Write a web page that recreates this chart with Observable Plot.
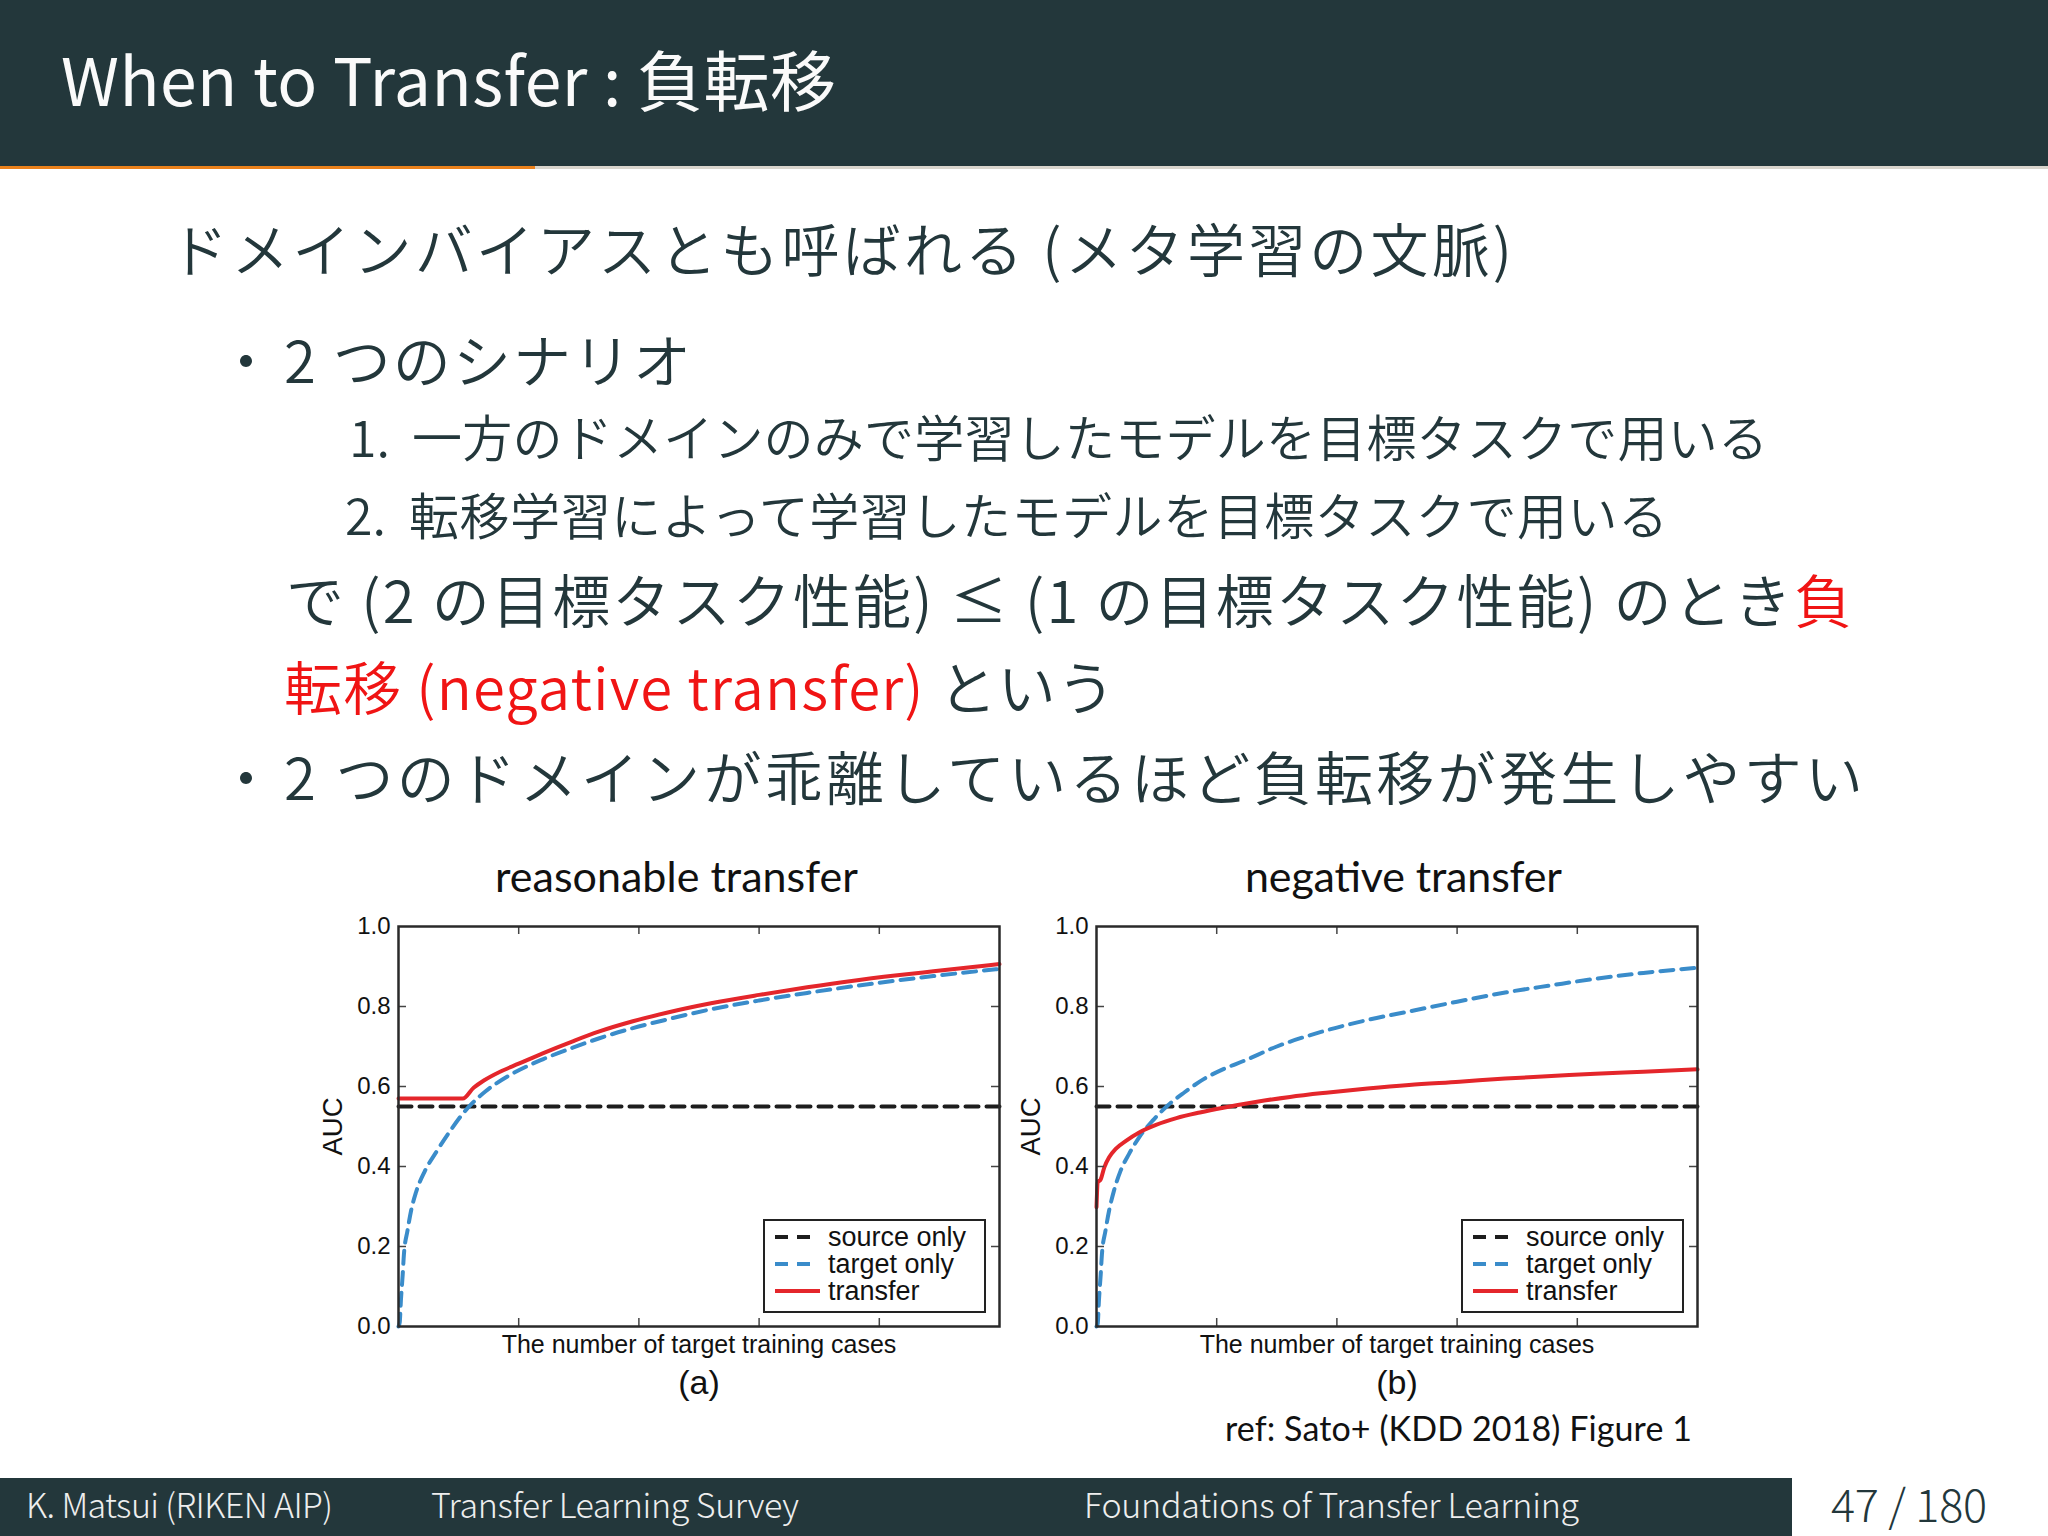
<!DOCTYPE html>
<html>
<head>
<meta charset="utf-8">
<script src="https://cdn.jsdelivr.net/npm/d3@7"></script>
<script src="https://cdn.jsdelivr.net/npm/@observablehq/plot@0.6"></script>
<style>
  html, body { margin: 0; padding: 0; background: #fff; }
  #page { position: relative; width: 2048px; height: 1536px; overflow: hidden; background: #fff; }
  .chart { position: absolute; width: 720px; }
  .chart svg { max-width: none !important; }
</style>
</head>
<body>
<div id="page"></div>
<script>
// ---------------- data ----------------
const slideTitle = "When to Transfer : 負転移";
const introLine = "ドメインバイアスとも呼ばれる (メタ学習の文脈)";
const bullet1 = "2 つのシナリオ";
const scenarioNums = ["1.", "2."];
const scenarios = [
  "一方のドメインのみで学習したモデルを目標タスクで用いる",
  "転移学習によって学習したモデルを目標タスクで用いる"
];
const condLineA = "で (2 の目標タスク性能) ≤ (1 の目標タスク性能) のとき";
const condRedA = "負";
const condRedB = "転移 (negative transfer)";
const condLineB = " という";
const bullet2 = "2 つのドメインが乖離しているほど負転移が発生しやすい";
const chartTitles = ["reasonable transfer", "negative transfer"];
const captions = ["(a)", "(b)"];
const refText = "ref: Sato+ (KDD 2018) Figure 1";
const footerTexts = ["K. Matsui (RIKEN AIP)", "Transfer Learning Survey", "Foundations of Transfer Learning"];
const pageNumber = "47 / 180";

const xLabel = "The number of target training cases";
const yLabel = "AUC";
const seriesNames = ["source only", "target only", "transfer"];
const xTicks = [0.2, 0.4, 0.6, 0.8];
const yTicks = [0, 0.2, 0.4, 0.6, 0.8, 1.0];
const xDomain = [0, 1];
const sourceOnlyAUC = 0.55;

// (a) reasonable transfer
const aTargetX = [0, 0.002, 0.004, 0.007, 0.009, 0.015, 0.021, 0.029, 0.044, 0.064, 0.086, 0.107, 0.122, 0.145, 0.187, 0.24, 0.29, 0.333, 0.39, 0.448, 0.52, 0.6, 0.68, 0.754, 0.83, 0.89, 1.0];
const aTargetY = [0, 0.01, 0.065, 0.13, 0.18, 0.24, 0.29, 0.335, 0.389, 0.439, 0.489, 0.532, 0.557, 0.588, 0.63, 0.668, 0.697, 0.72, 0.746, 0.768, 0.793, 0.815, 0.834, 0.85, 0.865, 0.876, 0.894];
const aTransferX = [0, 0.107, 0.125, 0.142, 0.169, 0.2, 0.24, 0.29, 0.333, 0.39, 0.448, 0.52, 0.6, 0.68, 0.754, 0.83, 0.89, 1.0];
const aTransferY = [0.57, 0.57, 0.597, 0.615, 0.637, 0.657, 0.683, 0.713, 0.737, 0.763, 0.785, 0.808, 0.829, 0.848, 0.864, 0.878, 0.888, 0.906];

// (b) negative transfer
const bTargetX = [0, 0.002, 0.004, 0.007, 0.009, 0.015, 0.021, 0.029, 0.04, 0.054, 0.071, 0.093, 0.118, 0.146, 0.179, 0.212, 0.245, 0.3, 0.375, 0.45, 0.528, 0.6, 0.68, 0.757, 0.833, 0.91, 1.0];
const bTargetY = [0, 0.007, 0.064, 0.13, 0.18, 0.24, 0.29, 0.339, 0.389, 0.431, 0.473, 0.514, 0.552, 0.585, 0.619, 0.644, 0.664, 0.7, 0.737, 0.766, 0.79, 0.812, 0.835, 0.853, 0.87, 0.884, 0.897];
const bTransferX = [0, 0.002, 0.007, 0.013, 0.021, 0.032, 0.049, 0.071, 0.099, 0.133, 0.172, 0.211, 0.267, 0.322, 0.386, 0.451, 0.52, 0.604, 0.68, 0.757, 0.83, 0.91, 1.0];
const bTransferY = [0.298, 0.36, 0.368, 0.398, 0.423, 0.444, 0.464, 0.485, 0.504, 0.521, 0.535, 0.547, 0.562, 0.574, 0.585, 0.595, 0.604, 0.612, 0.62, 0.626, 0.632, 0.637, 0.643];

// ---------------- styles ----------------
const seriesColors = ["#1d1d1d", "#3a8cca", "#e4262b"];
const seriesDash = ["13,8", "13,8", null];
const legendDash = ["13,9", "13,9", null];
const legendLen = [35, 35, 45];
const DARK = "#23373b";
const RED = "#f01414";
const JP = "'Noto Sans CJK JP', 'Noto Sans', sans-serif";
const ARIAL = "'Liberation Sans', Arial, sans-serif";
const CAL = "Lato, 'Open Sans', sans-serif";

const page = d3.select("#page");

// ---------------- charts ----------------
const zip = (xs, ys) => xs.map((x, i) => ({x, y: ys[i]}));

function legendMark(index, scales, values, dim) {
  const boxW = 221, boxH = 92, off = 14;
  const x0 = dim.width - dim.marginRight - off - boxW;
  const y0 = dim.height - dim.marginBottom - off - boxH;
  const g = d3.create("svg:g");
  g.append("rect").attr("x", x0).attr("y", y0).attr("width", boxW).attr("height", boxH)
    .attr("fill", "#fff").attr("stroke", "#222").attr("stroke-width", 2);
  seriesNames.forEach((name, i) => {
    const cy = y0 + 17 + i * 27;
    g.append("line").attr("x1", x0 + 11).attr("x2", x0 + 11 + legendLen[i]).attr("y1", cy).attr("y2", cy)
      .attr("stroke", seriesColors[i]).attr("stroke-width", 4)
      .attr("stroke-dasharray", legendDash[i]);
    g.append("text").attr("x", x0 + 64).attr("y", cy + 9).attr("font-size", 27)
      .attr("text-anchor", "start")
      .attr("font-family", ARIAL).attr("fill", "#111").text(name);
  });
  return g.node();
}

function makeChart(tx, ty, rx, ry, caption) {
  const W = 601, H = 400;
  const source = xDomain.map(x => ({x, y: sourceOnlyAUC}));
  const lines = [source, zip(tx, ty), zip(rx, ry)];
  return Plot.plot({
    width: 720, height: 546,
    marginLeft: 98, marginRight: 21, marginTop: 66, marginBottom: 80,
    x: {domain: xDomain, axis: null},
    y: {domain: [0, 1]},
    style: {fontFamily: ARIAL, background: "transparent", overflow: "visible", color: "#111"},
    marks: [
      ...lines.map((d, i) => Plot.line(d, {
        x: "x", y: "y", stroke: seriesColors[i], strokeWidth: 4, curve: "monotone-x",
        strokeDasharray: seriesDash[i] || undefined
      })),
      Plot.tickX(xTicks, {x: d => d, insetTop: H - 8, stroke: "#444", strokeWidth: 1.5}),
      Plot.tickX(xTicks, {x: d => d, insetBottom: H - 8, stroke: "#444", strokeWidth: 1.5}),
      Plot.tickY(yTicks.slice(1, -1), {y: d => d, insetRight: W - 8, stroke: "#444", strokeWidth: 1.5}),
      Plot.tickY(yTicks.slice(1, -1), {y: d => d, insetLeft: W - 8, stroke: "#444", strokeWidth: 1.5}),
      Plot.frame({stroke: "#2a2a2a", strokeWidth: 2.5}),
      Plot.axisY({ticks: yTicks, tickSize: 0, tickPadding: 8, tickFormat: d => d.toFixed(1), fontSize: 24, label: null}),
      Plot.text([yLabel], {frameAnchor: "left", textAnchor: "middle", dx: -65, rotate: -90, fontSize: 27.5, fill: "#111"}),
      Plot.text([xLabel], {frameAnchor: "bottom", dy: 26, lineAnchor: "bottom", fontSize: 25, fill: "#111"}),
      Plot.text([caption], {frameAnchor: "bottom", dy: 57, lineAnchor: "middle", fontSize: 34, fill: "#111"}),
      legendMark
    ]
  });
}

const chartA = makeChart(aTargetX, aTargetY, aTransferX, aTransferY, captions[0]);
const chartB = makeChart(bTargetX, bTargetY, bTransferX, bTransferY, captions[1]);
page.append("div").attr("class", "chart").style("left", "300px").style("top", "860px").node().appendChild(chartA);
page.append("div").attr("class", "chart").style("left", "998px").style("top", "860px").node().appendChild(chartB);

// ---------------- slide layer ----------------
const svg = page.append("svg").attr("width", 2048).attr("height", 1536)
  .style("position", "absolute").style("left", 0).style("top", 0).style("pointer-events", "none");

// header
svg.append("rect").attr("x", 0).attr("y", 0).attr("width", 2048).attr("height", 166).attr("fill", DARK);
svg.append("rect").attr("x", 535).attr("y", 166).attr("width", 1513).attr("height", 3).attr("fill", "#d8d4cc");
svg.append("rect").attr("x", 0).attr("y", 166).attr("width", 535).attr("height", 3).attr("fill", "#eb811b");
// footer
svg.append("rect").attr("x", 0).attr("y", 1478).attr("width", 1792).attr("height", 58).attr("fill", DARK);

function txt(x, y, parts, o = {}) {
  const t = svg.append("text").attr("x", x).attr("y", y)
    .attr("font-size", o.size || 58).attr("font-weight", o.weight || 350)
    .attr("font-family", o.family || JP).attr("fill", o.fill || DARK)
    .attr("text-anchor", o.anchor || "start");
  if (o.len) t.attr("textLength", o.len).attr("lengthAdjust", "spacing");
  for (const p of parts) {
    const [s, c] = Array.isArray(p) ? p : [p, null];
    t.append("tspan").attr("fill", c || o.fill || DARK).text(s);
  }
  return t;
}

txt(61, 106, [slideTitle], {size: 66, weight: 400, fill: "#fafafa", len: 775});

txt(170, 272, [introLine], {size: 58, len: 1342});
txt(246, 383, ["・"], {size: 58, anchor: "middle"});
txt(284, 383, [bullet1], {size: 58, len: 407});
txt(349, 457, [scenarioNums[0]], {size: 50});
txt(412, 457, [scenarios[0]], {size: 50, len: 1356});
txt(345, 535, [scenarioNums[1]], {size: 50});
txt(409, 535, [scenarios[1]], {size: 50, len: 1259});
txt(286, 623, [condLineA, [condRedA, RED]], {size: 58, len: 1566});
txt(284, 710, [[condRedB, RED], condLineB], {size: 58, len: 831});
txt(246, 800, ["・"], {size: 58, anchor: "middle"});
txt(284, 800, [bullet2], {size: 58, len: 1579});

// chart titles & reference
txt(495, 892, [chartTitles[0]], {size: 43, weight: 400, family: CAL, fill: "#111", len: 363});
txt(1245, 892, [chartTitles[1]], {size: 43, weight: 400, family: CAL, fill: "#111", len: 317});
txt(1225, 1441, [refText], {size: 34, weight: 400, family: CAL, fill: "#111", len: 467});

// footer texts
txt(26, 1518, [footerTexts[0]], {size: 34, weight: 300, fill: "#eeeeee", len: 307});
txt(431, 1518, [footerTexts[1]], {size: 34, weight: 300, fill: "#eeeeee", len: 368});
txt(1084, 1518, [footerTexts[2]], {size: 34, weight: 300, fill: "#eeeeee", len: 495});
txt(1831, 1522, [pageNumber], {size: 45, weight: 300, fill: DARK, len: 156});
</script>
</body>
</html>
